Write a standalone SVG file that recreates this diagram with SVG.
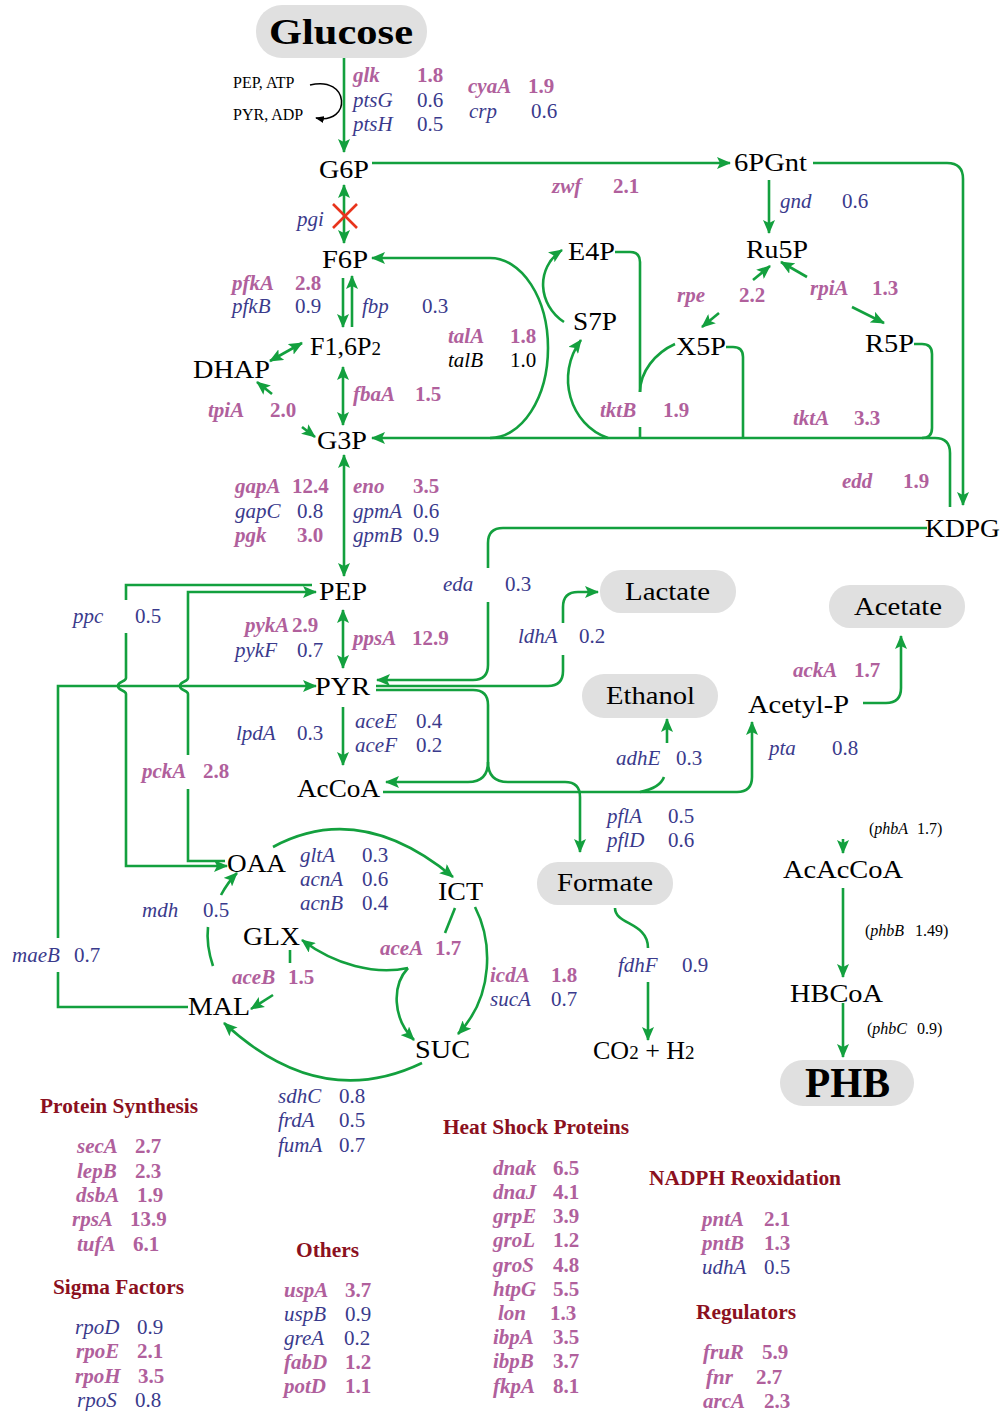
<svg xmlns="http://www.w3.org/2000/svg" width="1005" height="1411" viewBox="0 0 1005 1411">
<style>
text{font-family:"Liberation Serif","Times New Roman",serif}
.n{font-size:26px;fill:#000}
.nb{font-weight:bold;fill:#000}
.gp{font-size:21px;font-style:italic;font-weight:bold;fill:#b0609c}
.gb{font-size:21px;font-style:italic;fill:#3a3a8c}
.gk{font-size:21px;font-style:italic;fill:#000}
.v{font-style:normal}
.h{font-size:20px;font-weight:bold;fill:#8b1020}
.sm{font-size:16px;fill:#000}
.ph{font-size:16px;fill:#000}
.e{fill:none;stroke:#13a03e;stroke-width:2.6;marker-end:url(#ah)}
.l{fill:none;stroke:#13a03e;stroke-width:2.6}
.d{fill:none;stroke:#13a03e;stroke-width:2.6;marker-end:url(#ah);marker-start:url(#ah)}
.pill{fill:#e0e0e0}
</style>
<defs>
<marker id="ah" viewBox="0 0 14 12" markerUnits="userSpaceOnUse" markerWidth="14" markerHeight="12" refX="13" refY="6" orient="auto-start-reverse">
<path d="M0,0 L14,6 L0,12 L3,6 z" fill="#13a03e"/>
</marker>
<marker id="bk" viewBox="0 0 10 8" markerUnits="userSpaceOnUse" markerWidth="9" markerHeight="7" refX="9" refY="4" orient="auto">
<path d="M0,0 L10,4 L0,8 z" fill="#000"/>
</marker>
</defs>
<rect width="1005" height="1411" fill="#fff"/>

<g id="connectors">
<path class="e" d="M344 58 V152"/>
<path d="M310 85 C350 75 352 125 316 118" fill="none" stroke="#000" stroke-width="1.5" marker-end="url(#bk)"/>
<path class="e" d="M372 163 H730"/>
<path class="e" d="M813 163 H947 Q963 163 963 179 V505"/>
<path class="e" d="M769 180 V233"/>
<path class="d" d="M344 185 V243"/>
<path d="M333 204 L357 228 M357 204 L333 228" stroke="#e8341c" stroke-width="2.6" fill="none"/>
<path class="e" d="M343 278 V327"/>
<path class="e" d="M352 327 V276"/>
<path class="d" d="M270 361 L302 343"/>
<path class="d" d="M343 367 V425"/>
<path class="e" d="M272 394 L257 382"/>
<path class="e" d="M302 427 L315 437"/>
<path class="e" d="M950 507 V453 Q950 438 935 438 H372"/>
<path class="e" d="M490 438 A58 90 0 0 0 490 258 H372"/>
<path class="e" d="M608 438 C570 425 555 375 581 340"/>
<path class="e" d="M564 322 C538 305 535 268 562 250"/>
<path class="l" d="M615 252 H630 Q640 252 640 262 V392 M640 427 V438"/>
<path class="l" d="M675 344 C655 353 640 372 640 392"/>
<path class="l" d="M726 347 H733 Q743 347 743 357 V438"/>
<path class="l" d="M914 344 H922 Q932 344 932 354 V428 Q932 438 922 438"/>
<path class="e" d="M753 280 L770 266"/>
<path class="e" d="M719 313 L702 327"/>
<path class="e" d="M807 277 L781 262"/>
<path class="e" d="M852 307 L884 323"/>
<path class="d" d="M344 455 V576"/>
<path class="d" d="M343 610 V668"/>
<path class="e" d="M343 707 V765"/>
<path class="e" d="M312 585 H126 V600 M126 633 V678 C126 682 118 681 118 686 C118 691 126 690 126 694 V866 H227"/>
<path class="e" d="M225 861 H188 V789 M188 755 V694 C188 690 180 691 180 686 C180 681 188 682 188 678 V592 H316"/>
<path class="e" d="M188 1007 H58 V972 M58 938 V686 H316"/>
<path class="e" d="M927 528 H503 Q488 528 488 543 V568 M488 602 V665 Q488 680 473 680 H377"/>
<path class="e" d="M376 686 H548 Q563 686 563 671 V655 M563 623 V607 Q563 592 578 592 H598"/>
<path class="e" d="M376 690 H473 Q488 690 488 705 V762 Q488 782 468 782 H386"/>
<path class="e" d="M488 762 Q488 782 508 782 H565 Q580 782 580 797 V852"/>
<path class="e" d="M383 792 H737 Q752 792 752 777 V722"/>
<path class="l" d="M640 792 Q660 788 664 777"/>
<path class="e" d="M667 743 V719"/>
<path class="e" d="M863 703 H886 Q901 703 901 688 V636"/>
<path class="l" d="M615 908 C615 925 648 922 648 948"/>
<path class="e" d="M648 982 V1040"/>
<path class="e" d="M843 839 V853"/>
<path class="e" d="M843 888 V977"/>
<path class="e" d="M843 1003 V1057"/>
<path class="e" d="M273 847 Q360 800 453 877"/>
<path class="e" d="M475 907 C492 940 495 995 458 1034"/>
<path class="e" d="M422 1063 Q320 1112 224 1023"/>
<path class="l" d="M213 966 Q206 945 208 927"/>
<path class="e" d="M221 895 Q228 882 237 873"/>
<path class="l" d="M290 950 V963"/>
<path class="e" d="M273 995 L251 1009"/>
<path class="l" d="M455 908 L445 933"/>
<path class="e" d="M408 968 C375 975 335 965 302 940"/>
<path class="e" d="M408 968 C392 985 392 1018 414 1040"/>
</g>

<g id="n-glucose"><rect class="pill" x="256" y="5" width="171" height="53" rx="26"/><text class="nb" x="269" y="44" font-size="35" textLength="144" lengthAdjust="spacingAndGlyphs">Glucose</text></g>
<g id="n-g6p"><text class="n" x="319" y="178" textLength="50" lengthAdjust="spacingAndGlyphs">G6P</text></g>
<g id="n-6pgnt"><text class="n" x="734" y="171" textLength="73" lengthAdjust="spacingAndGlyphs">6PGnt</text></g>
<g id="n-ru5p"><text class="n" x="746" y="258" textLength="62" lengthAdjust="spacingAndGlyphs">Ru5P</text></g>
<g id="n-e4p"><text class="n" x="568" y="260" textLength="47" lengthAdjust="spacingAndGlyphs">E4P</text></g>
<g id="n-s7p"><text class="n" x="573" y="330" textLength="44" lengthAdjust="spacingAndGlyphs">S7P</text></g>
<g id="n-x5p"><text class="n" x="676" y="355" textLength="50" lengthAdjust="spacingAndGlyphs">X5P</text></g>
<g id="n-r5p"><text class="n" x="865" y="352" textLength="49" lengthAdjust="spacingAndGlyphs">R5P</text></g>
<g id="n-f6p"><text class="n" x="322" y="268" textLength="46" lengthAdjust="spacingAndGlyphs">F6P</text></g>
<g id="n-f16p2"><text class="n" x="310" y="355">F1,6P<tspan font-size="19">2</tspan></text></g>
<g id="n-dhap"><text class="n" x="193" y="378" textLength="77" lengthAdjust="spacingAndGlyphs">DHAP</text></g>
<g id="n-g3p"><text class="n" x="317" y="449" textLength="50" lengthAdjust="spacingAndGlyphs">G3P</text></g>
<g id="n-kdpg"><text class="n" x="925" y="537" textLength="75" lengthAdjust="spacingAndGlyphs">KDPG</text></g>
<g id="n-pep"><text class="n" x="319" y="600" textLength="48" lengthAdjust="spacingAndGlyphs">PEP</text></g>
<g id="n-pyr"><text class="n" x="315" y="695" textLength="55" lengthAdjust="spacingAndGlyphs">PYR</text></g>
<g id="n-accoa"><text class="n" x="297" y="797" textLength="83" lengthAdjust="spacingAndGlyphs">AcCoA</text></g>
<g id="n-lactate"><rect class="pill" x="600" y="570" width="136" height="43" rx="21"/><text class="n" x="625" y="600" textLength="85" lengthAdjust="spacingAndGlyphs">Lactate</text></g>
<g id="n-acetate"><rect class="pill" x="829" y="585" width="136" height="43" rx="21"/><text class="n" x="854" y="615" textLength="88" lengthAdjust="spacingAndGlyphs">Acetate</text></g>
<g id="n-ethanol"><rect class="pill" x="582" y="674" width="136" height="44" rx="22"/><text class="n" x="606" y="704" textLength="89" lengthAdjust="spacingAndGlyphs">Ethanol</text></g>
<g id="n-acetylp"><text class="n" x="748" y="713" textLength="101" lengthAdjust="spacingAndGlyphs">Acetyl-P</text></g>
<g id="n-formate"><rect class="pill" x="537" y="862" width="136" height="43" rx="21"/><text class="n" x="557" y="891" textLength="96" lengthAdjust="spacingAndGlyphs">Formate</text></g>
<g id="n-co2h2"><text class="n" x="593" y="1059">CO<tspan font-size="19">2</tspan> + H<tspan font-size="19">2</tspan></text></g>
<g id="n-oaa"><text class="n" x="227" y="872" textLength="59" lengthAdjust="spacingAndGlyphs">OAA</text></g>
<g id="n-ict"><text class="n" x="438" y="900" textLength="45" lengthAdjust="spacingAndGlyphs">ICT</text></g>
<g id="n-glx"><text class="n" x="243" y="945" textLength="57" lengthAdjust="spacingAndGlyphs">GLX</text></g>
<g id="n-mal"><text class="n" x="188" y="1015" textLength="62" lengthAdjust="spacingAndGlyphs">MAL</text></g>
<g id="n-suc"><text class="n" x="415" y="1058" textLength="55" lengthAdjust="spacingAndGlyphs">SUC</text></g>
<g id="n-acaccoa"><text class="n" x="783" y="878" textLength="120" lengthAdjust="spacingAndGlyphs">AcAcCoA</text></g>
<g id="n-hbcoa"><text class="n" x="790" y="1002" textLength="93" lengthAdjust="spacingAndGlyphs">HBCoA</text></g>
<g id="n-phb"><rect class="pill" x="780" y="1060" width="134" height="46" rx="23"/><text class="nb" x="805" y="1097" font-size="42" textLength="85" lengthAdjust="spacingAndGlyphs">PHB</text></g>

<g id="labels">
<text class="sm" x="233" y="88">PEP, ATP</text>
<text class="sm" x="233" y="120">PYR, ADP</text>
<text class="gp" x="353" y="82">glk<tspan class="v" x="417">1.8</tspan></text>
<text class="gb" x="353" y="107">ptsG<tspan class="v" x="417">0.6</tspan></text>
<text class="gb" x="353" y="131">ptsH<tspan class="v" x="417">0.5</tspan></text>
<text class="gp" x="468" y="93">cyaA<tspan class="v" x="528">1.9</tspan></text>
<text class="gb" x="469" y="118">crp<tspan class="v" x="531">0.6</tspan></text>
<text class="gp" x="552" y="193">zwf<tspan class="v" x="613">2.1</tspan></text>
<text class="gb" x="780" y="208">gnd<tspan class="v" x="842">0.6</tspan></text>
<text class="gb" x="297" y="226">pgi</text>
<text class="gp" x="232" y="290">pfkA<tspan class="v" x="295">2.8</tspan></text>
<text class="gb" x="232" y="313">pfkB<tspan class="v" x="295">0.9</tspan></text>
<text class="gb" x="362" y="313">fbp<tspan class="v" x="422">0.3</tspan></text>
<text class="gp" x="677" y="302">rpe<tspan class="v" x="739">2.2</tspan></text>
<text class="gp" x="810" y="295">rpiA<tspan class="v" x="872">1.3</tspan></text>
<text class="gp" x="448" y="343">talA<tspan class="v" x="510">1.8</tspan></text>
<text class="gk" x="448" y="367">talB<tspan class="v" x="510">1.0</tspan></text>
<text class="gp" x="353" y="401">fbaA<tspan class="v" x="415">1.5</tspan></text>
<text class="gp" x="208" y="417">tpiA<tspan class="v" x="270">2.0</tspan></text>
<text class="gp" x="600" y="417">tktB<tspan class="v" x="663">1.9</tspan></text>
<text class="gp" x="793" y="425">tktA<tspan class="v" x="854">3.3</tspan></text>
<text class="gp" x="842" y="488">edd<tspan class="v" x="903">1.9</tspan></text>
<text class="gp" x="235" y="493">gapA<tspan class="v" x="292">12.4</tspan></text>
<text class="gb" x="235" y="518">gapC<tspan class="v" x="297">0.8</tspan></text>
<text class="gp" x="235" y="542">pgk<tspan class="v" x="297">3.0</tspan></text>
<text class="gp" x="353" y="493">eno<tspan class="v" x="413">3.5</tspan></text>
<text class="gb" x="353" y="518">gpmA<tspan class="v" x="413">0.6</tspan></text>
<text class="gb" x="353" y="542">gpmB<tspan class="v" x="413">0.9</tspan></text>
<text class="gb" x="443" y="591">eda<tspan class="v" x="505">0.3</tspan></text>
<text class="gb" x="73" y="623">ppc<tspan class="v" x="135">0.5</tspan></text>
<text class="gb" x="518" y="643">ldhA<tspan class="v" x="579">0.2</tspan></text>
<text class="gp" x="245" y="632">pykA<tspan class="v" x="292">2.9</tspan></text>
<text class="gb" x="235" y="657">pykF<tspan class="v" x="297">0.7</tspan></text>
<text class="gp" x="353" y="645">ppsA<tspan class="v" x="412">12.9</tspan></text>
<text class="gp" x="793" y="677">ackA<tspan class="v" x="854">1.7</tspan></text>
<text class="gb" x="355" y="728">aceE<tspan class="v" x="416">0.4</tspan></text>
<text class="gb" x="355" y="752">aceF<tspan class="v" x="416">0.2</tspan></text>
<text class="gb" x="236" y="740">lpdA<tspan class="v" x="297">0.3</tspan></text>
<text class="gb" x="769" y="755">pta<tspan class="v" x="832">0.8</tspan></text>
<text class="gb" x="616" y="765">adhE<tspan class="v" x="676">0.3</tspan></text>
<text class="gp" x="142" y="778">pckA<tspan class="v" x="203">2.8</tspan></text>
<text class="gb" x="607" y="823">pflA<tspan class="v" x="668">0.5</tspan></text>
<text class="gb" x="607" y="847">pflD<tspan class="v" x="668">0.6</tspan></text>
<text class="gb" x="300" y="862">gltA<tspan class="v" x="362">0.3</tspan></text>
<text class="gb" x="300" y="886">acnA<tspan class="v" x="362">0.6</tspan></text>
<text class="gb" x="300" y="910">acnB<tspan class="v" x="362">0.4</tspan></text>
<text class="gb" x="142" y="917">mdh<tspan class="v" x="203">0.5</tspan></text>
<text class="gp" x="380" y="955">aceA<tspan class="v" x="435">1.7</tspan></text>
<text class="gb" x="12" y="962">maeB<tspan class="v" x="74">0.7</tspan></text>
<text class="gb" x="618" y="972">fdhF<tspan class="v" x="682">0.9</tspan></text>
<text class="gp" x="490" y="982">icdA<tspan class="v" x="551">1.8</tspan></text>
<text class="gb" x="490" y="1006">sucA<tspan class="v" x="551">0.7</tspan></text>
<text class="gp" x="232" y="984">aceB<tspan class="v" x="288">1.5</tspan></text>
<text class="gb" x="278" y="1103">sdhC<tspan class="v" x="339">0.8</tspan></text>
<text class="gb" x="278" y="1127">frdA<tspan class="v" x="339">0.5</tspan></text>
<text class="gb" x="278" y="1152">fumA<tspan class="v" x="339">0.7</tspan></text>
<text class="ph" x="869" y="834">(<tspan font-style="italic">phbA</tspan><tspan x="917">1.7)</tspan></text>
<text class="ph" x="865" y="936">(<tspan font-style="italic">phbB</tspan><tspan x="915">1.49)</tspan></text>
<text class="ph" x="867" y="1034">(<tspan font-style="italic">phbC</tspan><tspan x="917">0.9)</tspan></text>
</g>

<g id="lists">
<text class="h" x="40" y="1113" textLength="158" lengthAdjust="spacingAndGlyphs">Protein Synthesis</text>
<text class="gp" x="77" y="1153">secA<tspan class="v" x="135">2.7</tspan></text>
<text class="gp" x="77" y="1178">lepB<tspan class="v" x="135">2.3</tspan></text>
<text class="gp" x="76" y="1202">dsbA<tspan class="v" x="137">1.9</tspan></text>
<text class="gp" x="72" y="1226">rpsA<tspan class="v" x="130">13.9</tspan></text>
<text class="gp" x="77" y="1251">tufA<tspan class="v" x="133">6.1</tspan></text>
<text class="h" x="53" y="1294" textLength="131" lengthAdjust="spacingAndGlyphs">Sigma Factors</text>
<text class="gb" x="75" y="1334">rpoD<tspan class="v" x="137">0.9</tspan></text>
<text class="gp" x="76" y="1358">rpoE<tspan class="v" x="137">2.1</tspan></text>
<text class="gp" x="75" y="1383">rpoH<tspan class="v" x="138">3.5</tspan></text>
<text class="gb" x="77" y="1407">rpoS<tspan class="v" x="135">0.8</tspan></text>
<text class="h" x="296" y="1257" textLength="63" lengthAdjust="spacingAndGlyphs">Others</text>
<text class="gp" x="284" y="1297">uspA<tspan class="v" x="345">3.7</tspan></text>
<text class="gb" x="284" y="1321">uspB<tspan class="v" x="345">0.9</tspan></text>
<text class="gb" x="284" y="1345">greA<tspan class="v" x="344">0.2</tspan></text>
<text class="gp" x="284" y="1369">fabD<tspan class="v" x="345">1.2</tspan></text>
<text class="gp" x="284" y="1393">potD<tspan class="v" x="345">1.1</tspan></text>
<text class="h" x="443" y="1134" textLength="186" lengthAdjust="spacingAndGlyphs">Heat Shock Proteins</text>
<text class="gp" x="493" y="1175">dnak<tspan class="v" x="553">6.5</tspan></text>
<text class="gp" x="493" y="1199">dnaJ<tspan class="v" x="553">4.1</tspan></text>
<text class="gp" x="493" y="1223">grpE<tspan class="v" x="553">3.9</tspan></text>
<text class="gp" x="493" y="1247">groL<tspan class="v" x="553">1.2</tspan></text>
<text class="gp" x="493" y="1272">groS<tspan class="v" x="553">4.8</tspan></text>
<text class="gp" x="493" y="1296">htpG<tspan class="v" x="553">5.5</tspan></text>
<text class="gp" x="498" y="1320">lon<tspan class="v" x="550">1.3</tspan></text>
<text class="gp" x="493" y="1344">ibpA<tspan class="v" x="553">3.5</tspan></text>
<text class="gp" x="493" y="1368">ibpB<tspan class="v" x="553">3.7</tspan></text>
<text class="gp" x="493" y="1393">fkpA<tspan class="v" x="553">8.1</tspan></text>
<text class="h" x="649" y="1185" textLength="192" lengthAdjust="spacingAndGlyphs">NADPH Reoxidation</text>
<text class="gp" x="702" y="1226">pntA<tspan class="v" x="764">2.1</tspan></text>
<text class="gp" x="702" y="1250">pntB<tspan class="v" x="764">1.3</tspan></text>
<text class="gb" x="702" y="1274">udhA<tspan class="v" x="764">0.5</tspan></text>
<text class="h" x="696" y="1319" textLength="100" lengthAdjust="spacingAndGlyphs">Regulators</text>
<text class="gp" x="703" y="1359">fruR<tspan class="v" x="762">5.9</tspan></text>
<text class="gp" x="706" y="1384">fnr<tspan class="v" x="756">2.7</tspan></text>
<text class="gp" x="703" y="1408">arcA<tspan class="v" x="764">2.3</tspan></text>
</g>
</svg>
